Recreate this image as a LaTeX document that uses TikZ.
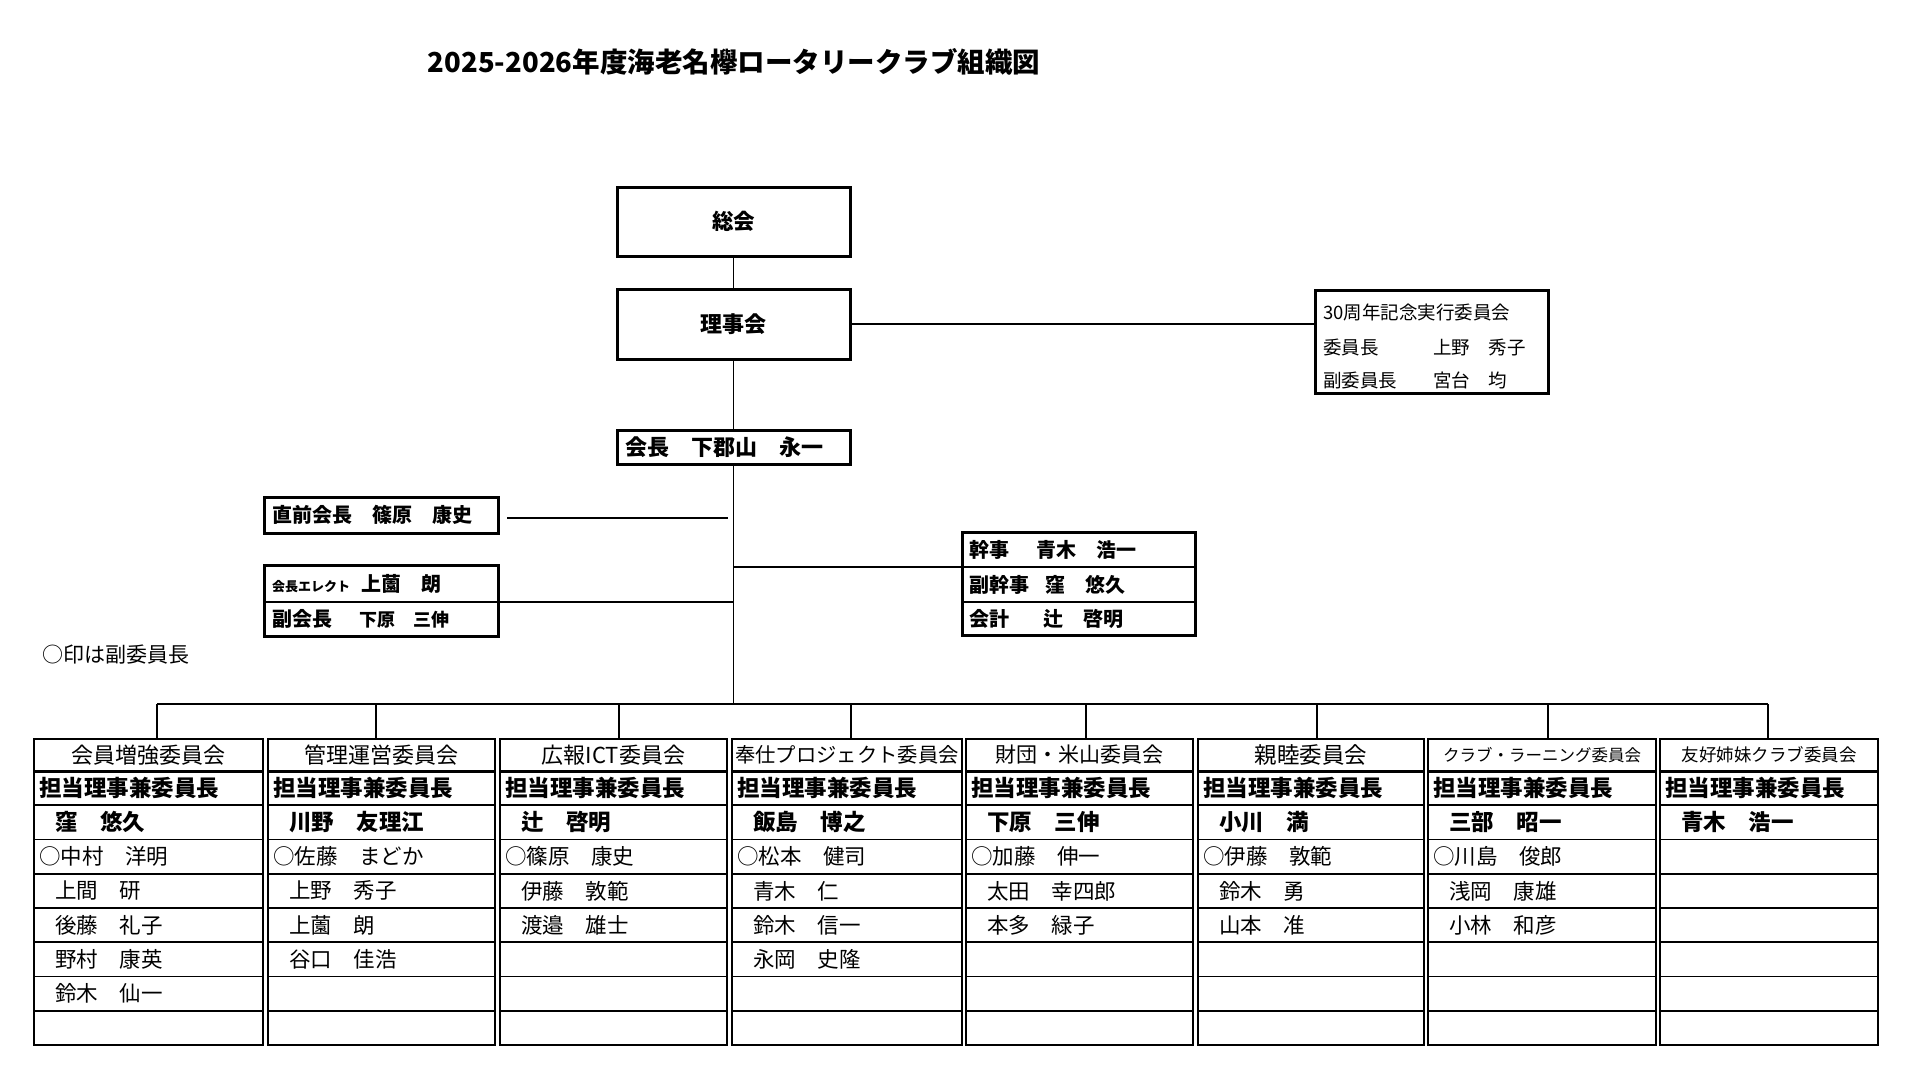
\documentclass[tikz,border=0pt]{standalone}
\usepackage{fontspec}
\setmainfont{Noto Sans CJK JP}
\usetikzlibrary{positioning}
\newcommand{\fs}[1]{\fontsize{#1pt}{#1pt}\selectfont}
\newcommand{\ind}{\hspace{16pt}}
\tikzset{frame/.style={draw, line width=3pt, inner sep=0pt, outer sep=0pt}}
\tikzset{row/.style={draw, line width=1.6pt, inner sep=0pt, outer sep=0pt, minimum width=233pt}}
\tikzset{cell/.style={draw, line width=1.6pt, inner sep=0pt, outer sep=0pt, anchor=north west}}
\tikzset{wire/.style={line width=1.7pt}}
\tikzset{lbl/.style={anchor=west, inner sep=0pt, font=\bfseries\fs{20}}}
\tikzset{memb/.style={anchor=west, inner sep=0pt, font=\fs{21.5}}}
\tikzset{head/.style={anchor=west, inner sep=0pt, font=\bfseries\fs{22.5}}}
% members of committee #1, from row 3 down
\newcommand{\members}[2]{\foreach \m [count=\k from 3] in {#2} {\node[memb] (m#1-\k) at ([xshift=5pt]r#1-\k.west) {\m};}}

\begin{document}
\begin{tikzpicture}[x=1pt, y=-1pt]
  \useasboundingbox[fill=white] (0,0) rectangle (1920,1069);

  % --- title ---
  \node[font=\bfseries\fs{27.5}] (title) at (734,62) {2025-2026年度海老名欅ロータリークラブ組織図};

  % --- general meeting, board, president ---
  \node[frame, minimum width=233pt, minimum height=69pt, font=\bfseries\fs{21.5}] (soukai) at (733.5,221.5) {総会};
  \node[frame, minimum width=233pt, minimum height=70pt, font=\bfseries\fs{22}] (rijikai) at (733.5,324) {理事会};
  \node[frame, minimum width=233pt, minimum height=34pt] (kaicho) at (733.5,447) {};
  \node[lbl, font=\bfseries\fs{22}] (kaichoT) at ([xshift=8pt]kaicho.west) {会長　下郡山　永一};

  \draw[wire] (soukai.south) -- (rijikai.north);
  \draw[wire] (rijikai.south) -- (kaicho.north);

  % --- 30th anniversary ---
  \node[frame, minimum width=233pt, minimum height=103pt] (kinen) at (1431.5,341.5) {};
  \node[memb, font=\fs{18.5}] (kinenT) at (1323,312) {30周年記念実行委員会};
  \node[memb, font=\fs{18.5}] (kinenA) at (1323,347) {\makebox[110pt][l]{委員長}上野　秀子};
  \node[memb, font=\fs{18.5}] (kinenB) at (1323,380) {\makebox[110pt][l]{副委員長}宮台　均};
  \draw[wire] (rijikai.east) -- (rijikai.east -| kinen.west);

  % --- past president, elect, vice ---
  \node[frame, minimum width=234pt, minimum height=36pt] (zen) at (381,515) {};
  \node[lbl] (zenT) at ([xshift=8pt]zen.west) {直前会長　篠原　康史};

  \node[row, minimum width=234pt, minimum height=37pt] (eleA) at (381,583.5) {};
  \node[row, minimum width=234pt, minimum height=34pt, below=0pt of eleA] (eleB) {};
  \draw[line width=3pt] (eleA.north west) rectangle (eleB.south east);
  \node[lbl] (eleAT) at ([xshift=8pt]eleA.west) {{\fs{13}会長エレクト}\hspace{11pt}上薗　朗};
  \node[lbl] (eleBT) at ([xshift=8pt]eleB.west) {副会長\hspace{27pt}{\fs{18}下原　三伸}};

  % --- secretary, treasurer ---
  \node[row, minimum height=35pt] (kanA) at (1078.5,549.5) {};
  \node[row, minimum height=35pt, below=0pt of kanA] (kanB) {};
  \node[row, minimum height=33pt, below=0pt of kanB] (kanC) {};
  \draw[line width=3pt] (kanA.north west) rectangle (kanC.south east);
  \node[lbl] (kanAT) at ([xshift=7pt]kanA.west) {\makebox[67pt][l]{幹事}青木　浩一};
  \node[lbl] (kanBT) at ([xshift=7pt]kanB.west) {\makebox[76pt][l]{副幹事}窪　悠久};
  \node[lbl] (kanCT) at ([xshift=7pt]kanC.west) {\makebox[74pt][l]{会計}辻　啓明};

  \node[memb, font=\fs{21}] (note) at (42,655) {○印は副委員長};

  % --- trunk and bus ---
  \coordinate (busL) at (157,704);
  \coordinate (busR) at (1768,704);
  \draw[wire] ([xshift=9pt,yshift=-3pt]zen.east) -- ([xshift=-6pt,yshift=-3pt]zen.east -| kaicho.south);
  \draw[wire] (eleA.south east) -- (eleA.south east -| kaicho.south);
  \draw[wire] (kanA.south west -| kaicho.south) -- (kanA.south west);
  \draw[wire] (kaicho.south) -- (kaicho.south |- busL);
  \draw[wire] (busL) -- (busR);

  % --- committee tables ---
  \foreach \i/\l/\r/\d in {1/34/263/157, 2/268/495/376, 3/500/727/619, 4/732/962/851,
                           5/966/1193/1086, 6/1198/1424/1317, 7/1428/1656/1548, 8/1660/1878/1768} {
    \pgfmathsetmacro{\w}{\r-\l}
    \node[cell, minimum width=\w pt, minimum height=32pt] (h\i) at (\l,739) {};
    \foreach \k in {1,...,8}
      \node[cell, minimum width=\w pt, minimum height=34.25pt] (r\i-\k) at (\l,{771+(\k-1)*34.25}) {};
    \draw[line width=3pt] (h\i.south west) -- (h\i.south east);
    \node[head] (lead\i) at ([xshift=5pt]r\i-1.west) {担当理事兼委員長};
    \coordinate (d\i) at (\d,704);
    \draw[wire] (d\i) -- (d\i |- h\i.north);
  }

  \foreach \i/\t/\s in {1/会員増強委員会/22, 2/管理運営委員会/22, 3/広報ICT委員会/22, 4/奉仕プロジェクト委員会/20.3,
                        5/財団・米山委員会/21, 6/親睦委員会/22.5, 7/クラブ・ラーニング委員会/16.5, 8/友好姉妹クラブ委員会/17.5}
    \node[font=\fs{\s}, inner sep=0pt] (ht\i) at (h\i) {\t};

  \foreach \i/\n in {1/窪　悠久, 2/川野　友理江, 3/辻　啓明, 4/飯島　博之,
                     5/下原　三伸, 6/小川　満, 7/三部　昭一, 8/青木　浩一}
    \node[head] (ch\i) at ([xshift=5pt]r\i-2.west) {\ind\n};

  \members{1}{○中村　洋明, \ind 上間　研, \ind 後藤　礼子, \ind 野村　康英, \ind 鈴木　仙一}
  \members{2}{○佐藤　まどか, \ind 上野　秀子, \ind 上薗　朗, \ind 谷口　佳浩}
  \members{3}{○篠原　康史, \ind 伊藤　敦範, \ind 渡邉　雄士}
  \members{4}{○松本　健司, \ind 青木　仁, \ind 鈴木　信一, \ind 永岡　史隆}
  \members{5}{○加藤　伸一, \ind 太田　幸四郎, \ind 本多　緑子}
  \members{6}{○伊藤　敦範, \ind 鈴木　勇, \ind 山本　准}
  \members{7}{○川島　俊郎, \ind 浅岡　康雄, \ind 小林　和彦}

\end{tikzpicture}
\end{document}
